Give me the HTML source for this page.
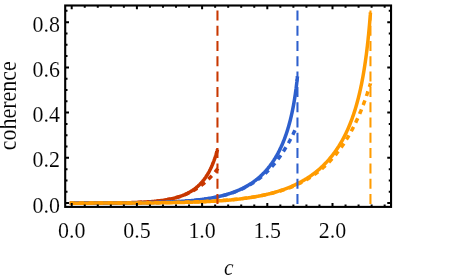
<!DOCTYPE html>
<html><head><meta charset="utf-8"><style>html,body{margin:0;padding:0;background:#fff}svg{display:block}</style></head><body><svg width="458" height="278" viewBox="0 0 458 278">
<rect width="458" height="278" fill="#fff"/>
<path d="M69.80,203.14 L70.45,203.14 L71.10,203.14 L71.75,203.14 L72.39,203.14 L73.04,203.14 L73.68,203.13 L74.32,203.13 L74.96,203.13 L75.60,203.13 L76.23,203.13 L76.87,203.13 L77.50,203.13 L78.13,203.13 L78.76,203.13 L79.39,203.13 L80.02,203.13 L80.64,203.13 L81.27,203.12 L81.89,203.12 L82.51,203.12 L83.13,203.12 L83.74,203.12 L84.36,203.12 L84.97,203.12 L85.59,203.12 L86.20,203.11 L86.81,203.11 L87.42,203.11 L88.02,203.11 L88.63,203.11 L89.23,203.11 L89.83,203.11 L90.43,203.10 L91.03,203.10 L91.63,203.10 L92.23,203.10 L92.82,203.10 L93.41,203.09 L94.00,203.09 L94.59,203.09 L95.18,203.09 L95.77,203.09 L96.35,203.08 L96.94,203.08 L97.52,203.08 L98.10,203.08 L98.68,203.07 L99.26,203.07 L99.83,203.07 L100.41,203.06 L100.98,203.06 L101.55,203.06 L102.12,203.05 L102.69,203.05 L103.26,203.05 L103.82,203.04 L104.38,203.04 L104.95,203.04 L105.51,203.03 L106.07,203.03 L106.62,203.03 L107.18,203.02 L107.73,203.02 L108.29,203.01 L108.84,203.01 L109.39,203.00 L109.94,203.00 L110.48,202.99 L111.03,202.99 L111.57,202.98 L112.11,202.98 L112.65,202.97 L113.19,202.97 L113.73,202.96 L114.27,202.95 L114.80,202.95 L115.34,202.94 L115.87,202.93 L116.40,202.93 L116.93,202.92 L117.45,202.91 L117.98,202.91 L118.50,202.90 L119.03,202.89 L119.55,202.88 L120.07,202.87 L120.58,202.87 L121.10,202.86 L121.62,202.85 L122.13,202.84 L122.64,202.83 L123.15,202.82 L123.66,202.81 L124.17,202.80 L124.67,202.79 L125.18,202.78 L125.68,202.77 L126.18,202.76 L126.68,202.75 L127.18,202.74 L127.68,202.72 L128.17,202.71 L128.67,202.70 L129.16,202.69 L129.65,202.67 L130.14,202.66 L130.63,202.65 L131.12,202.63 L131.60,202.62 L132.08,202.61 L132.57,202.59 L133.05,202.58 L133.53,202.56 L134.00,202.54 L134.48,202.53 L134.96,202.51 L135.43,202.49 L135.90,202.48 L136.37,202.46 L136.84,202.44 L137.31,202.42 L137.77,202.40 L138.24,202.39 L138.70,202.37 L139.16,202.35 L139.62,202.33 L140.08,202.31 L140.54,202.28 L140.99,202.26 L141.44,202.24 L141.90,202.22 L142.35,202.19 L142.80,202.17 L143.25,202.15 L143.69,202.12 L144.14,202.10 L144.58,202.07 L145.02,202.05 L145.46,202.02 L145.90,201.99 L146.34,201.97 L146.78,201.94 L147.21,201.91 L147.65,201.88 L148.08,201.85 L148.51,201.82 L148.94,201.79 L149.36,201.76 L149.79,201.73 L150.22,201.70 L150.64,201.66 L151.06,201.63 L151.48,201.60 L151.90,201.56 L152.32,201.53 L152.73,201.49 L153.15,201.45 L153.56,201.42 L153.97,201.38 L154.38,201.34 L154.79,201.30 L155.20,201.26 L155.60,201.22 L156.01,201.18 L156.41,201.14 L156.81,201.10 L157.21,201.05 L157.61,201.01 L158.01,200.96 L158.40,200.92 L158.80,200.87 L159.19,200.83 L159.58,200.78 L159.97,200.73 L160.36,200.68 L160.75,200.63 L161.13,200.58 L161.52,200.53 L161.90,200.48 L162.28,200.42 L162.66,200.37 L163.04,200.32 L163.42,200.26 L163.79,200.20 L164.16,200.15 L164.54,200.09 L164.91,200.03 L165.28,199.97 L165.65,199.91 L166.01,199.85 L166.38,199.79 L166.74,199.72 L167.11,199.66 L167.47,199.59 L167.83,199.53 L168.19,199.46 L168.54,199.39 L168.90,199.32 L169.25,199.25 L169.61,199.18 L169.96,199.11 L170.31,199.04 L170.66,198.97 L171.00,198.89 L171.35,198.82 L171.69,198.74 L172.04,198.66 L172.38,198.58 L172.72,198.50 L173.06,198.42 L173.39,198.34 L173.73,198.26 L174.06,198.18 L174.40,198.09 L174.73,198.00 L175.06,197.92 L175.39,197.83 L175.72,197.74 L176.04,197.65 L176.37,197.56 L176.69,197.47 L177.01,197.37 L177.33,197.28 L177.65,197.18 L177.97,197.08 L178.29,196.99 L178.60,196.89 L178.91,196.79 L179.23,196.69 L179.54,196.58 L179.85,196.48 L180.16,196.37 L180.46,196.27 L180.77,196.16 L181.07,196.05 L181.37,195.94 L181.67,195.83 L181.97,195.72 L182.27,195.60 L182.57,195.49 L182.87,195.37 L183.16,195.26 L183.45,195.14 L183.74,195.02 L184.03,194.90 L184.32,194.77 L184.61,194.65 L184.90,194.53 L185.18,194.40 L185.47,194.27 L185.75,194.14 L186.03,194.01 L186.31,193.88 L186.58,193.75 L186.86,193.62 L187.14,193.48 L187.41,193.34 L187.68,193.21 L187.95,193.07 L188.22,192.93 L188.49,192.78 L188.76,192.64 L189.03,192.50 L189.29,192.35 L189.55,192.20 L189.81,192.06 L190.07,191.91 L190.33,191.75 L190.59,191.60 L190.85,191.45 L191.10,191.29 L191.36,191.14 L191.61,190.98 L191.86,190.82 L192.11,190.66 L192.36,190.50 L192.60,190.33 L192.85,190.17 L193.09,190.00 L193.34,189.84 L193.58,189.67 L193.82,189.50 L194.06,189.32 L194.30,189.15 L194.53,188.98 L194.77,188.80 L195.00,188.63 L195.23,188.45 L195.46,188.27 L195.69,188.09 L195.92,187.90 L196.15,187.72 L196.38,187.54 L196.60,187.35 L196.82,187.16 L197.05,186.97 L197.27,186.78 L197.49,186.59 L197.70,186.40 L197.92,186.20 L198.14,186.01 L198.35,185.81 L198.56,185.61 L198.77,185.42 L198.98,185.21 L199.19,185.01 L199.40,184.81 L199.61,184.60 L199.81,184.40 L200.02,184.19 L200.22,183.98 L200.42,183.77 L200.62,183.56 L200.82,183.35 L201.01,183.14 L201.21,182.92 L201.41,182.71 L201.60,182.49 L201.79,182.28 L201.98,182.06 L202.17,181.84 L202.36,181.61 L202.55,181.39 L202.73,181.17 L202.92,180.94 L203.10,180.72 L203.28,180.49 L203.46,180.26 L203.64,180.04 L203.82,179.81 L204.00,179.58 L204.17,179.34 L204.35,179.11 L204.52,178.88 L204.69,178.64 L204.86,178.41 L205.03,178.17 L205.20,177.93 L205.37,177.70 L205.53,177.46 L205.70,177.22 L205.86,176.98 L206.02,176.74 L206.18,176.49 L206.34,176.25 L206.50,176.01 L206.66,175.76 L206.81,175.52 L206.97,175.27 L207.12,175.03 L207.27,174.78 L207.42,174.53 L207.57,174.28 L207.72,174.03 L207.87,173.79 L208.02,173.54 L208.16,173.29 L208.30,173.04 L208.45,172.78 L208.59,172.53 L208.73,172.28 L208.87,172.03 L209.00,171.78 L209.14,171.53 L209.27,171.27 L209.41,171.02 L209.54,170.77 L209.67,170.51 L209.80,170.26 L209.93,170.01 L210.06,169.75 L210.19,169.50 L210.31,169.25 L210.44,168.99 L210.56,168.74 L210.68,168.49 L210.80,168.24 L210.92,167.98 L211.04,167.73 L211.16,167.48 L211.27,167.23 L211.39,166.97 L211.50,166.72 L211.61,166.47 L211.72,166.22 L211.83,165.97 L211.94,165.72 L212.05,165.48 L212.16,165.23 L212.26,164.98 L212.37,164.73 L212.47,164.49 L212.57,164.24 L212.67,164.00 L212.77,163.76 L212.87,163.51 L212.97,163.27 L213.07,163.03 L213.16,162.79 L213.25,162.55 L213.35,162.31 L213.44,162.08 L213.53,161.84 L213.62,161.61 L213.71,161.38 L213.79,161.15 L213.88,160.92 L213.97,160.69 L214.05,160.46 L214.13,160.23 L214.21,160.01 L214.29,159.79 L214.37,159.57 L214.45,159.35 L214.53,159.13 L214.61,158.91 L214.68,158.70 L214.76,158.48 L214.83,158.27 L214.90,158.06 L214.97,157.86 L215.04,157.65 L215.11,157.45 L215.18,157.25 L215.24,157.05 L215.31,156.85 L215.37,156.66 L215.44,156.46 L215.50,156.27 L215.56,156.09 L215.62,155.90 L215.68,155.72 L215.74,155.54 L215.79,155.36 L215.85,155.18 L215.90,155.01 L215.96,154.83 L216.01,154.66 L216.06,154.50 L216.11,154.33 L216.16,154.17 L216.21,154.01 L216.26,153.86 L216.31,153.70 L216.35,153.55 L216.40,153.40 L216.44,153.26 L216.48,153.12 L216.52,152.98 L216.56,152.84 L216.60,152.71 L216.64,152.57 L216.68,152.45 L216.72,152.32 L216.75,152.20 L216.79,152.08 L216.82,151.96 L216.86,151.85 L216.89,151.74 L216.92,151.63 L216.95,151.52 L216.98,151.42 L217.01,151.32 L217.03,151.23 L217.06,151.13 L217.08,151.04 L217.11,150.96 L217.13,150.87 L217.16,150.79 L217.18,150.71 L217.20,150.64 L217.22,150.57 L217.24,150.50 L217.26,150.43 L217.27,150.37 L217.29,150.31 L217.31,150.25 L217.32,150.20 L217.34,150.15 L217.35,150.10 L217.36,150.05 L217.37,150.01 L217.38,149.97 L217.39,149.93 L217.40,149.90 L217.41,149.87 L217.42,149.84 L217.43,149.82 L217.43,149.79 L217.44,149.77 L217.44,149.75 L217.45,149.74 L217.45,149.73 L217.45,149.71 L217.46,149.71 L217.46,149.70 L217.46,149.70 L217.46,149.69 L217.46,149.69" fill="none" stroke="#C83700" stroke-width="3.5" stroke-linejoin="round"/>
<path d="M217.46,169.02 L217.46,169.02 L217.46,169.02 L217.46,169.02 L217.46,169.03 L217.45,169.03 L217.45,169.03 L217.45,169.04 L217.44,169.04 L217.44,169.05 L217.43,169.06 L217.43,169.06 L217.42,169.07 L217.41,169.08 L217.40,169.10 L217.39,169.11 L217.38,169.12 L217.37,169.13 L217.36,169.15 L217.35,169.17 L217.34,169.18 L217.32,169.20 L217.31,169.22 L217.29,169.24 L217.27,169.26 L217.26,169.28 L217.24,169.31 L217.22,169.33 L217.20,169.36 L217.18,169.39 L217.16,169.41 L217.13,169.44 L217.11,169.47 L217.08,169.51 L217.06,169.54 L217.03,169.57 L217.01,169.61 L216.98,169.64 L216.95,169.68 L216.92,169.72 L216.89,169.76 L216.86,169.80 L216.82,169.84 L216.79,169.88 L216.75,169.93 L216.72,169.97 L216.68,170.02 L216.64,170.07 L216.60,170.12 L216.56,170.17 L216.52,170.22 L216.48,170.27 L216.44,170.32 L216.40,170.38 L216.35,170.44 L216.31,170.49 L216.26,170.55 L216.21,170.61 L216.16,170.67 L216.11,170.73 L216.06,170.80 L216.01,170.86 L215.96,170.93 L215.90,170.99 L215.85,171.06 L215.79,171.13 L215.74,171.20 L215.68,171.27 L215.62,171.34 L215.56,171.42 L215.50,171.49 L215.44,171.57 L215.37,171.64 L215.31,171.72 L215.24,171.80 L215.18,171.88 L215.11,171.96 L215.04,172.05 L214.97,172.13 L214.90,172.21 L214.83,172.30 L214.76,172.39 L214.68,172.48 L214.61,172.56 L214.53,172.66 L214.45,172.75 L214.37,172.84 L214.29,172.93 L214.21,173.03 L214.13,173.12 L214.05,173.22 L213.97,173.32 L213.88,173.42 L213.79,173.52 L213.71,173.62 L213.62,173.72 L213.53,173.82 L213.44,173.93 L213.35,174.03 L213.25,174.14 L213.16,174.24 L213.07,174.35 L212.97,174.46 L212.87,174.57 L212.77,174.68 L212.67,174.79 L212.57,174.90 L212.47,175.02 L212.37,175.13 L212.26,175.25 L212.16,175.36 L212.05,175.48 L211.94,175.60 L211.83,175.72 L211.72,175.83 L211.61,175.96 L211.50,176.08 L211.39,176.20 L211.27,176.32 L211.16,176.44 L211.04,176.57 L210.92,176.69 L210.80,176.82 L210.68,176.95 L210.56,177.07 L210.44,177.20 L210.31,177.33 L210.19,177.46 L210.06,177.59 L209.93,177.72 L209.80,177.85 L209.67,177.98 L209.54,178.12 L209.41,178.25 L209.27,178.38 L209.14,178.52 L209.00,178.65 L208.87,178.79 L208.73,178.93 L208.59,179.06 L208.45,179.20 L208.30,179.34 L208.16,179.48 L208.02,179.61 L207.87,179.75 L207.72,179.89 L207.57,180.03 L207.42,180.18 L207.27,180.32 L207.12,180.46 L206.97,180.60 L206.81,180.74 L206.66,180.89 L206.50,181.03 L206.34,181.17 L206.18,181.32 L206.02,181.46 L205.86,181.60 L205.70,181.75 L205.53,181.89 L205.37,182.04 L205.20,182.19 L205.03,182.33 L204.86,182.48 L204.69,182.62 L204.52,182.77 L204.35,182.92 L204.17,183.06 L204.00,183.21 L203.82,183.36 L203.64,183.50 L203.46,183.65 L203.28,183.80 L203.10,183.95 L202.92,184.09 L202.73,184.24 L202.55,184.39 L202.36,184.54 L202.17,184.69 L201.98,184.83 L201.79,184.98 L201.60,185.13 L201.41,185.28 L201.21,185.42 L201.01,185.57 L200.82,185.72 L200.62,185.87 L200.42,186.01 L200.22,186.16 L200.02,186.31 L199.81,186.45 L199.61,186.60 L199.40,186.75 L199.19,186.89 L198.98,187.04 L198.77,187.19 L198.56,187.33 L198.35,187.48 L198.14,187.62 L197.92,187.77 L197.70,187.91 L197.49,188.06 L197.27,188.20 L197.05,188.34 L196.82,188.49 L196.60,188.63 L196.38,188.77 L196.15,188.92 L195.92,189.06 L195.69,189.20 L195.46,189.34 L195.23,189.48 L195.00,189.62 L194.77,189.76 L194.53,189.90 L194.30,190.04 L194.06,190.18 L193.82,190.31 L193.58,190.45 L193.34,190.59 L193.09,190.72 L192.85,190.86 L192.60,191.00 L192.36,191.13 L192.11,191.26 L191.86,191.40 L191.61,191.53 L191.36,191.66 L191.10,191.79 L190.85,191.93 L190.59,192.06 L190.33,192.19 L190.07,192.32 L189.81,192.44 L189.55,192.57 L189.29,192.70 L189.03,192.83 L188.76,192.95 L188.49,193.08 L188.22,193.20 L187.95,193.32 L187.68,193.45 L187.41,193.57 L187.14,193.69 L186.86,193.81 L186.58,193.93 L186.31,194.05 L186.03,194.17 L185.75,194.29 L185.47,194.40 L185.18,194.52 L184.90,194.63 L184.61,194.75 L184.32,194.86 L184.03,194.98 L183.74,195.09 L183.45,195.20 L183.16,195.31 L182.87,195.42 L182.57,195.53 L182.27,195.64 L181.97,195.74 L181.67,195.85 L181.37,195.95 L181.07,196.06 L180.77,196.16 L180.46,196.26 L180.16,196.37 L179.85,196.47 L179.54,196.57 L179.23,196.67 L178.91,196.76 L178.60,196.86 L178.29,196.96 L177.97,197.05 L177.65,197.15 L177.33,197.24 L177.01,197.34 L176.69,197.43 L176.37,197.52 L176.04,197.61 L175.72,197.70 L175.39,197.79 L175.06,197.87 L174.73,197.96 L174.40,198.05 L174.06,198.13 L173.73,198.21 L173.39,198.30 L173.06,198.38 L172.72,198.46 L172.38,198.54 L172.04,198.62 L171.69,198.70 L171.35,198.78 L171.00,198.85 L170.66,198.93 L170.31,199.00 L169.96,199.08 L169.61,199.15 L169.25,199.22 L168.90,199.29 L168.54,199.37 L168.19,199.43 L167.83,199.50 L167.47,199.57 L167.11,199.64 L166.74,199.70 L166.38,199.77 L166.01,199.83 L165.65,199.90 L165.28,199.96 L164.91,200.02 L164.54,200.08 L164.16,200.14 L163.79,200.20 L163.42,200.26 L163.04,200.32 L162.66,200.37 L162.28,200.43 L161.90,200.49 L161.52,200.54 L161.13,200.59 L160.75,200.65 L160.36,200.70 L159.97,200.75 L159.58,200.80 L159.19,200.85 L158.80,200.90 L158.40,200.95 L158.01,200.99 L157.61,201.04 L157.21,201.09 L156.81,201.13 L156.41,201.18 L156.01,201.22 L155.60,201.26 L155.20,201.30 L154.79,201.35 L154.38,201.39 L153.97,201.43 L153.56,201.47 L153.15,201.50 L152.73,201.54 L152.32,201.58 L151.90,201.62 L151.48,201.65 L151.06,201.69 L150.64,201.72 L150.22,201.76 L149.79,201.79 L149.36,201.82 L148.94,201.85 L148.51,201.89 L148.08,201.92 L147.65,201.95 L147.21,201.98 L146.78,202.01 L146.34,202.04 L145.90,202.06 L145.46,202.09 L145.02,202.12 L144.58,202.14 L144.14,202.17 L143.69,202.20 L143.25,202.22 L142.80,202.24 L142.35,202.27 L141.90,202.29 L141.44,202.31 L140.99,202.34 L140.54,202.36 L140.08,202.38 L139.62,202.40 L139.16,202.42 L138.70,202.44 L138.24,202.46 L137.77,202.48 L137.31,202.50 L136.84,202.52 L136.37,202.53 L135.90,202.55 L135.43,202.57 L134.96,202.59 L134.48,202.60 L134.00,202.62 L133.53,202.63 L133.05,202.65 L132.57,202.66 L132.08,202.68 L131.60,202.69 L131.12,202.71 L130.63,202.72 L130.14,202.73 L129.65,202.74 L129.16,202.76 L128.67,202.77 L128.17,202.78 L127.68,202.79 L127.18,202.80 L126.68,202.81 L126.18,202.82 L125.68,202.83 L125.18,202.84 L124.67,202.85 L124.17,202.86 L123.66,202.87 L123.15,202.88 L122.64,202.89 L122.13,202.90 L121.62,202.91 L121.10,202.92 L120.58,202.92 L120.07,202.93 L119.55,202.94 L119.03,202.95 L118.50,202.95 L117.98,202.96 L117.45,202.97 L116.93,202.97 L116.40,202.98 L115.87,202.98 L115.34,202.99 L114.80,203.00 L114.27,203.00 L113.73,203.01 L113.19,203.01 L112.65,203.02 L112.11,203.02 L111.57,203.03 L111.03,203.03 L110.48,203.03 L109.94,203.04 L109.39,203.04 L108.84,203.05 L108.29,203.05 L107.73,203.05 L107.18,203.06 L106.62,203.06 L106.07,203.07 L105.51,203.07 L104.95,203.07 L104.38,203.07 L103.82,203.08 L103.26,203.08 L102.69,203.08 L102.12,203.09 L101.55,203.09 L100.98,203.09 L100.41,203.09 L99.83,203.10 L99.26,203.10 L98.68,203.10 L98.10,203.10 L97.52,203.10 L96.94,203.11 L96.35,203.11 L95.77,203.11 L95.18,203.11 L94.59,203.11 L94.00,203.11 L93.41,203.12 L92.82,203.12 L92.23,203.12 L91.63,203.12 L91.03,203.12 L90.43,203.12 L89.83,203.12 L89.23,203.12 L88.63,203.13 L88.02,203.13 L87.42,203.13 L86.81,203.13 L86.20,203.13 L85.59,203.13 L84.97,203.13 L84.36,203.13 L83.74,203.13 L83.13,203.13 L82.51,203.13 L81.89,203.14 L81.27,203.14 L80.64,203.14 L80.02,203.14 L79.39,203.14 L78.76,203.14 L78.13,203.14 L77.50,203.14 L76.87,203.14 L76.23,203.14 L75.60,203.14 L74.96,203.14 L74.32,203.14 L73.68,203.14 L73.04,203.14 L72.39,203.14 L71.75,203.14 L71.10,203.14 L70.45,203.14 L69.80,203.14" fill="none" stroke="#C83700" stroke-width="3.5" stroke-linejoin="round" stroke-dasharray="4.10 4.70 4.90 4.70 4.90 4.70 4.90 4.70 4.90 4.70 4.90 4.70 4.90 4.70 4.90 4.70 4.90 4.70 4.90 4.70 4.90 4.70 4.90 4.70 4.90 4.70 4.90 4.70 4.90 4.70 4.90 4.70 4.90 4.70 4.90 4.70 4.90 4.70 4.90 4.70 4.90 4.70 4.90 4.70 4.90 4.70 4.90 4.70 4.90 4.70 4.90 4.70 4.90 4.70 4.90 4.70 4.90 4.70 4.90 4.70 4.90 4.70 4.90 4.70 4.90 4.70 4.90 4.70 4.90 4.70 4.90 4.70 4.90 4.70 4.90 4.70 4.90 4.70 4.90 4.70 4.90 4.70 4.90 4.70 4.90 4.70 4.90 4.70 4.90 4.70 4.90 4.70 4.90 4.70 4.90 4.70 4.90 4.70 4.90 4.70 4.90 4.70 4.90 4.70 4.90 4.70 4.90 4.70 4.90 4.70 4.90 4.70 4.90 4.70 4.90 4.70 4.90 4.70 4.90 4.70 4.90 4.70"/>
<path d="M69.80,203.13 L70.80,203.13 L71.80,203.13 L72.80,203.13 L73.80,203.13 L74.79,203.13 L75.78,203.12 L76.77,203.12 L77.75,203.12 L78.74,203.12 L79.72,203.12 L80.70,203.12 L81.67,203.12 L82.64,203.12 L83.62,203.11 L84.58,203.11 L85.55,203.11 L86.52,203.11 L87.48,203.11 L88.44,203.11 L89.39,203.10 L90.35,203.10 L91.30,203.10 L92.25,203.10 L93.20,203.10 L94.14,203.09 L95.08,203.09 L96.02,203.09 L96.96,203.09 L97.90,203.08 L98.83,203.08 L99.76,203.08 L100.69,203.08 L101.61,203.07 L102.54,203.07 L103.46,203.07 L104.38,203.06 L105.29,203.06 L106.21,203.06 L107.12,203.05 L108.03,203.05 L108.93,203.04 L109.84,203.04 L110.74,203.04 L111.64,203.03 L112.54,203.03 L113.43,203.02 L114.33,203.02 L115.22,203.01 L116.10,203.01 L116.99,203.00 L117.87,203.00 L118.75,202.99 L119.63,202.99 L120.51,202.98 L121.38,202.97 L122.25,202.97 L123.12,202.96 L123.99,202.95 L124.85,202.95 L125.71,202.94 L126.57,202.93 L127.43,202.93 L128.29,202.92 L129.14,202.91 L129.99,202.90 L130.84,202.89 L131.68,202.88 L132.52,202.87 L133.36,202.86 L134.20,202.86 L135.04,202.85 L135.87,202.83 L136.70,202.82 L137.53,202.81 L138.36,202.80 L139.18,202.79 L140.01,202.78 L140.83,202.77 L141.64,202.75 L142.46,202.74 L143.27,202.73 L144.08,202.71 L144.89,202.70 L145.70,202.69 L146.50,202.67 L147.30,202.66 L148.10,202.64 L148.89,202.62 L149.69,202.61 L150.48,202.59 L151.27,202.57 L152.06,202.56 L152.84,202.54 L153.62,202.52 L154.40,202.50 L155.18,202.48 L155.96,202.46 L156.73,202.44 L157.50,202.42 L158.27,202.40 L159.04,202.38 L159.80,202.35 L160.56,202.33 L161.32,202.31 L162.08,202.28 L162.83,202.26 L163.59,202.23 L164.34,202.20 L165.08,202.18 L165.83,202.15 L166.57,202.12 L167.31,202.09 L168.05,202.06 L168.79,202.03 L169.52,202.00 L170.26,201.97 L170.98,201.94 L171.71,201.90 L172.44,201.87 L173.16,201.84 L173.88,201.80 L174.60,201.76 L175.31,201.73 L176.03,201.69 L176.74,201.65 L177.45,201.61 L178.15,201.57 L178.86,201.53 L179.56,201.49 L180.26,201.44 L180.96,201.40 L181.65,201.36 L182.35,201.31 L183.04,201.26 L183.73,201.22 L184.41,201.17 L185.10,201.12 L185.78,201.07 L186.46,201.01 L187.14,200.96 L187.81,200.91 L188.48,200.85 L189.15,200.80 L189.82,200.74 L190.49,200.68 L191.15,200.62 L191.81,200.56 L192.47,200.50 L193.13,200.44 L193.78,200.38 L194.44,200.31 L195.09,200.24 L195.73,200.18 L196.38,200.11 L197.02,200.04 L197.66,199.97 L198.30,199.89 L198.94,199.82 L199.57,199.74 L200.21,199.67 L200.84,199.59 L201.46,199.51 L202.09,199.43 L202.71,199.35 L203.33,199.26 L203.95,199.18 L204.57,199.09 L205.18,199.01 L205.80,198.92 L206.41,198.83 L207.01,198.73 L207.62,198.64 L208.22,198.54 L208.82,198.45 L209.42,198.35 L210.02,198.25 L210.61,198.15 L211.21,198.04 L211.80,197.94 L212.38,197.83 L212.97,197.72 L213.55,197.61 L214.13,197.50 L214.71,197.39 L215.29,197.27 L215.87,197.15 L216.44,197.04 L217.01,196.92 L217.58,196.79 L218.14,196.67 L218.71,196.54 L219.27,196.42 L219.83,196.29 L220.38,196.15 L220.94,196.02 L221.49,195.88 L222.04,195.75 L222.59,195.61 L223.14,195.47 L223.68,195.32 L224.22,195.18 L224.76,195.03 L225.30,194.88 L225.83,194.73 L226.37,194.58 L226.90,194.42 L227.43,194.27 L227.95,194.11 L228.48,193.94 L229.00,193.78 L229.52,193.61 L230.04,193.45 L230.55,193.28 L231.07,193.10 L231.58,192.93 L232.09,192.75 L232.59,192.57 L233.10,192.39 L233.60,192.21 L234.10,192.02 L234.60,191.84 L235.10,191.65 L235.59,191.45 L236.08,191.26 L236.57,191.06 L237.06,190.86 L237.55,190.66 L238.03,190.46 L238.51,190.25 L238.99,190.04 L239.47,189.83 L239.94,189.62 L240.42,189.40 L240.89,189.18 L241.36,188.96 L241.82,188.74 L242.29,188.52 L242.75,188.29 L243.21,188.06 L243.67,187.82 L244.12,187.59 L244.58,187.35 L245.03,187.11 L245.48,186.87 L245.93,186.62 L246.37,186.37 L246.81,186.12 L247.25,185.87 L247.69,185.62 L248.13,185.36 L248.57,185.10 L249.00,184.83 L249.43,184.57 L249.86,184.30 L250.28,184.03 L250.71,183.75 L251.13,183.48 L251.55,183.20 L251.97,182.92 L252.38,182.63 L252.80,182.35 L253.21,182.06 L253.62,181.76 L254.03,181.47 L254.43,181.17 L254.84,180.87 L255.24,180.57 L255.64,180.26 L256.03,179.96 L256.43,179.64 L256.82,179.33 L257.21,179.01 L257.60,178.70 L257.99,178.37 L258.37,178.05 L258.76,177.72 L259.14,177.39 L259.52,177.06 L259.89,176.72 L260.27,176.39 L260.64,176.05 L261.01,175.70 L261.38,175.36 L261.75,175.01 L262.11,174.66 L262.47,174.30 L262.83,173.94 L263.19,173.58 L263.55,173.22 L263.90,172.86 L264.25,172.49 L264.61,172.12 L264.95,171.74 L265.30,171.37 L265.64,170.99 L265.99,170.61 L266.33,170.22 L266.66,169.84 L267.00,169.45 L267.33,169.05 L267.67,168.66 L268.00,168.26 L268.32,167.86 L268.65,167.45 L268.97,167.05 L269.30,166.64 L269.62,166.23 L269.93,165.81 L270.25,165.40 L270.56,164.98 L270.88,164.55 L271.19,164.13 L271.49,163.70 L271.80,163.27 L272.10,162.83 L272.41,162.40 L272.71,161.96 L273.01,161.52 L273.30,161.07 L273.60,160.63 L273.89,160.18 L274.18,159.73 L274.47,159.27 L274.75,158.81 L275.04,158.35 L275.32,157.89 L275.60,157.42 L275.88,156.96 L276.16,156.49 L276.43,156.01 L276.70,155.54 L276.97,155.06 L277.24,154.58 L277.51,154.09 L277.78,153.61 L278.04,153.12 L278.30,152.63 L278.56,152.13 L278.82,151.64 L279.07,151.14 L279.33,150.64 L279.58,150.13 L279.83,149.62 L280.07,149.12 L280.32,148.60 L280.56,148.09 L280.81,147.57 L281.05,147.06 L281.28,146.53 L281.52,146.01 L281.75,145.49 L281.99,144.96 L282.22,144.43 L282.45,143.89 L282.67,143.36 L282.90,142.82 L283.12,142.28 L283.34,141.74 L283.56,141.19 L283.78,140.65 L284.00,140.10 L284.21,139.55 L284.42,139.00 L284.63,138.44 L284.84,137.88 L285.05,137.32 L285.25,136.76 L285.45,136.20 L285.65,135.63 L285.85,135.07 L286.05,134.50 L286.24,133.92 L286.44,133.35 L286.63,132.78 L286.82,132.20 L287.01,131.62 L287.19,131.04 L287.38,130.46 L287.56,129.87 L287.74,129.29 L287.92,128.70 L288.10,128.11 L288.27,127.52 L288.44,126.93 L288.62,126.34 L288.79,125.74 L288.95,125.15 L289.12,124.55 L289.28,123.95 L289.45,123.35 L289.61,122.75 L289.77,122.15 L289.92,121.54 L290.08,120.94 L290.23,120.33 L290.39,119.73 L290.54,119.12 L290.68,118.51 L290.83,117.91 L290.98,117.30 L291.12,116.69 L291.26,116.08 L291.40,115.47 L291.54,114.86 L291.67,114.25 L291.81,113.64 L291.94,113.03 L292.07,112.42 L292.20,111.81 L292.33,111.20 L292.46,110.59 L292.58,109.98 L292.70,109.37 L292.82,108.76 L292.94,108.15 L293.06,107.55 L293.18,106.94 L293.29,106.34 L293.40,105.74 L293.51,105.14 L293.62,104.54 L293.73,103.94 L293.84,103.34 L293.94,102.75 L294.04,102.16 L294.14,101.57 L294.24,100.98 L294.34,100.39 L294.44,99.81 L294.53,99.23 L294.62,98.66 L294.71,98.09 L294.80,97.52 L294.89,96.95 L294.98,96.39 L295.06,95.83 L295.14,95.28 L295.23,94.73 L295.31,94.18 L295.38,93.64 L295.46,93.11 L295.54,92.58 L295.61,92.05 L295.68,91.53 L295.75,91.02 L295.82,90.51 L295.89,90.01 L295.95,89.51 L296.02,89.03 L296.08,88.54 L296.14,88.07 L296.20,87.60 L296.26,87.14 L296.32,86.69 L296.37,86.24 L296.42,85.81 L296.48,85.38 L296.53,84.96 L296.58,84.54 L296.62,84.14 L296.67,83.75 L296.72,83.36 L296.76,82.99 L296.80,82.62 L296.84,82.26 L296.88,81.92 L296.92,81.58 L296.96,81.25 L296.99,80.94 L297.02,80.63 L297.06,80.34 L297.09,80.05 L297.12,79.78 L297.15,79.52 L297.17,79.26 L297.20,79.02 L297.22,78.79 L297.25,78.58 L297.27,78.37 L297.29,78.17 L297.31,77.99 L297.33,77.82 L297.34,77.65 L297.36,77.50 L297.37,77.36 L297.39,77.23 L297.40,77.12 L297.41,77.01 L297.42,76.91 L297.43,76.83 L297.43,76.75 L297.44,76.69 L297.45,76.64 L297.45,76.59 L297.45,76.56 L297.46,76.53 L297.46,76.51 L297.46,76.50 L297.46,76.50" fill="none" stroke="#2D5FCD" stroke-width="3.5" stroke-linejoin="round"/>
<path d="M297.46,124.72 L297.46,124.72 L297.46,124.72 L297.46,124.73 L297.45,124.73 L297.45,124.74 L297.45,124.75 L297.44,124.76 L297.43,124.78 L297.43,124.80 L297.42,124.81 L297.41,124.84 L297.40,124.86 L297.39,124.89 L297.37,124.92 L297.36,124.95 L297.34,124.99 L297.33,125.03 L297.31,125.07 L297.29,125.11 L297.27,125.16 L297.25,125.21 L297.22,125.26 L297.20,125.31 L297.17,125.37 L297.15,125.43 L297.12,125.50 L297.09,125.57 L297.06,125.64 L297.02,125.71 L296.99,125.79 L296.96,125.86 L296.92,125.95 L296.88,126.03 L296.84,126.12 L296.80,126.21 L296.76,126.31 L296.72,126.40 L296.67,126.50 L296.62,126.61 L296.58,126.71 L296.53,126.82 L296.48,126.94 L296.42,127.05 L296.37,127.17 L296.32,127.30 L296.26,127.42 L296.20,127.55 L296.14,127.68 L296.08,127.82 L296.02,127.96 L295.95,128.10 L295.89,128.24 L295.82,128.39 L295.75,128.54 L295.68,128.69 L295.61,128.85 L295.54,129.01 L295.46,129.17 L295.38,129.34 L295.31,129.51 L295.23,129.68 L295.14,129.85 L295.06,130.03 L294.98,130.21 L294.89,130.40 L294.80,130.58 L294.71,130.77 L294.62,130.97 L294.53,131.16 L294.44,131.36 L294.34,131.56 L294.24,131.77 L294.14,131.97 L294.04,132.18 L293.94,132.40 L293.84,132.61 L293.73,132.83 L293.62,133.05 L293.51,133.28 L293.40,133.50 L293.29,133.73 L293.18,133.97 L293.06,134.20 L292.94,134.44 L292.82,134.68 L292.70,134.92 L292.58,135.17 L292.46,135.42 L292.33,135.67 L292.20,135.92 L292.07,136.18 L291.94,136.44 L291.81,136.70 L291.67,136.96 L291.54,137.23 L291.40,137.49 L291.26,137.76 L291.12,138.04 L290.98,138.31 L290.83,138.59 L290.68,138.87 L290.54,139.15 L290.39,139.43 L290.23,139.72 L290.08,140.01 L289.92,140.30 L289.77,140.59 L289.61,140.88 L289.45,141.18 L289.28,141.48 L289.12,141.78 L288.95,142.08 L288.79,142.38 L288.62,142.69 L288.44,142.99 L288.27,143.30 L288.10,143.61 L287.92,143.93 L287.74,144.24 L287.56,144.56 L287.38,144.87 L287.19,145.19 L287.01,145.51 L286.82,145.83 L286.63,146.16 L286.44,146.48 L286.24,146.81 L286.05,147.13 L285.85,147.46 L285.65,147.79 L285.45,148.12 L285.25,148.45 L285.05,148.79 L284.84,149.12 L284.63,149.46 L284.42,149.79 L284.21,150.13 L284.00,150.47 L283.78,150.81 L283.56,151.15 L283.34,151.49 L283.12,151.83 L282.90,152.17 L282.67,152.52 L282.45,152.86 L282.22,153.20 L281.99,153.55 L281.75,153.90 L281.52,154.24 L281.28,154.59 L281.05,154.94 L280.81,155.28 L280.56,155.63 L280.32,155.98 L280.07,156.33 L279.83,156.68 L279.58,157.03 L279.33,157.38 L279.07,157.73 L278.82,158.08 L278.56,158.43 L278.30,158.77 L278.04,159.12 L277.78,159.47 L277.51,159.82 L277.24,160.17 L276.97,160.52 L276.70,160.87 L276.43,161.22 L276.16,161.57 L275.88,161.92 L275.60,162.27 L275.32,162.62 L275.04,162.96 L274.75,163.31 L274.47,163.66 L274.18,164.00 L273.89,164.35 L273.60,164.69 L273.30,165.04 L273.01,165.38 L272.71,165.73 L272.41,166.07 L272.10,166.41 L271.80,166.75 L271.49,167.09 L271.19,167.43 L270.88,167.77 L270.56,168.11 L270.25,168.45 L269.93,168.78 L269.62,169.12 L269.30,169.45 L268.97,169.79 L268.65,170.12 L268.32,170.45 L268.00,170.78 L267.67,171.11 L267.33,171.44 L267.00,171.76 L266.66,172.09 L266.33,172.41 L265.99,172.73 L265.64,173.06 L265.30,173.38 L264.95,173.70 L264.61,174.01 L264.25,174.33 L263.90,174.64 L263.55,174.96 L263.19,175.27 L262.83,175.58 L262.47,175.89 L262.11,176.19 L261.75,176.50 L261.38,176.80 L261.01,177.11 L260.64,177.41 L260.27,177.71 L259.89,178.01 L259.52,178.30 L259.14,178.60 L258.76,178.89 L258.37,179.18 L257.99,179.47 L257.60,179.76 L257.21,180.04 L256.82,180.33 L256.43,180.61 L256.03,180.89 L255.64,181.17 L255.24,181.44 L254.84,181.72 L254.43,181.99 L254.03,182.26 L253.62,182.53 L253.21,182.80 L252.80,183.06 L252.38,183.33 L251.97,183.59 L251.55,183.85 L251.13,184.11 L250.71,184.36 L250.28,184.61 L249.86,184.87 L249.43,185.12 L249.00,185.36 L248.57,185.61 L248.13,185.85 L247.69,186.09 L247.25,186.33 L246.81,186.57 L246.37,186.81 L245.93,187.04 L245.48,187.27 L245.03,187.50 L244.58,187.73 L244.12,187.95 L243.67,188.18 L243.21,188.40 L242.75,188.62 L242.29,188.83 L241.82,189.05 L241.36,189.26 L240.89,189.47 L240.42,189.68 L239.94,189.89 L239.47,190.09 L238.99,190.29 L238.51,190.49 L238.03,190.69 L237.55,190.89 L237.06,191.08 L236.57,191.27 L236.08,191.46 L235.59,191.65 L235.10,191.84 L234.60,192.02 L234.10,192.20 L233.60,192.38 L233.10,192.56 L232.59,192.74 L232.09,192.91 L231.58,193.08 L231.07,193.25 L230.55,193.42 L230.04,193.58 L229.52,193.75 L229.00,193.91 L228.48,194.07 L227.95,194.23 L227.43,194.38 L226.90,194.54 L226.37,194.69 L225.83,194.84 L225.30,194.99 L224.76,195.13 L224.22,195.28 L223.68,195.42 L223.14,195.56 L222.59,195.70 L222.04,195.84 L221.49,195.97 L220.94,196.11 L220.38,196.24 L219.83,196.37 L219.27,196.49 L218.71,196.62 L218.14,196.74 L217.58,196.87 L217.01,196.99 L216.44,197.11 L215.87,197.22 L215.29,197.34 L214.71,197.45 L214.13,197.56 L213.55,197.67 L212.97,197.78 L212.38,197.89 L211.80,198.00 L211.21,198.10 L210.61,198.20 L210.02,198.30 L209.42,198.40 L208.82,198.50 L208.22,198.60 L207.62,198.69 L207.01,198.78 L206.41,198.87 L205.80,198.96 L205.18,199.05 L204.57,199.14 L203.95,199.23 L203.33,199.31 L202.71,199.39 L202.09,199.47 L201.46,199.55 L200.84,199.63 L200.21,199.71 L199.57,199.79 L198.94,199.86 L198.30,199.93 L197.66,200.01 L197.02,200.08 L196.38,200.15 L195.73,200.21 L195.09,200.28 L194.44,200.35 L193.78,200.41 L193.13,200.47 L192.47,200.54 L191.81,200.60 L191.15,200.66 L190.49,200.71 L189.82,200.77 L189.15,200.83 L188.48,200.88 L187.81,200.94 L187.14,200.99 L186.46,201.04 L185.78,201.09 L185.10,201.14 L184.41,201.19 L183.73,201.24 L183.04,201.29 L182.35,201.34 L181.65,201.38 L180.96,201.42 L180.26,201.47 L179.56,201.51 L178.86,201.55 L178.15,201.59 L177.45,201.63 L176.74,201.67 L176.03,201.71 L175.31,201.75 L174.60,201.78 L173.88,201.82 L173.16,201.85 L172.44,201.89 L171.71,201.92 L170.98,201.96 L170.26,201.99 L169.52,202.02 L168.79,202.05 L168.05,202.08 L167.31,202.11 L166.57,202.14 L165.83,202.16 L165.08,202.19 L164.34,202.22 L163.59,202.24 L162.83,202.27 L162.08,202.29 L161.32,202.32 L160.56,202.34 L159.80,202.36 L159.04,202.39 L158.27,202.41 L157.50,202.43 L156.73,202.45 L155.96,202.47 L155.18,202.49 L154.40,202.51 L153.62,202.53 L152.84,202.55 L152.06,202.57 L151.27,202.58 L150.48,202.60 L149.69,202.62 L148.89,202.63 L148.10,202.65 L147.30,202.66 L146.50,202.68 L145.70,202.69 L144.89,202.71 L144.08,202.72 L143.27,202.73 L142.46,202.75 L141.64,202.76 L140.83,202.77 L140.01,202.78 L139.18,202.80 L138.36,202.81 L137.53,202.82 L136.70,202.83 L135.87,202.84 L135.04,202.85 L134.20,202.86 L133.36,202.87 L132.52,202.88 L131.68,202.89 L130.84,202.89 L129.99,202.90 L129.14,202.91 L128.29,202.92 L127.43,202.93 L126.57,202.93 L125.71,202.94 L124.85,202.95 L123.99,202.96 L123.12,202.96 L122.25,202.97 L121.38,202.98 L120.51,202.98 L119.63,202.99 L118.75,202.99 L117.87,203.00 L116.99,203.00 L116.10,203.01 L115.22,203.01 L114.33,203.02 L113.43,203.02 L112.54,203.03 L111.64,203.03 L110.74,203.04 L109.84,203.04 L108.93,203.04 L108.03,203.05 L107.12,203.05 L106.21,203.06 L105.29,203.06 L104.38,203.06 L103.46,203.07 L102.54,203.07 L101.61,203.07 L100.69,203.08 L99.76,203.08 L98.83,203.08 L97.90,203.08 L96.96,203.09 L96.02,203.09 L95.08,203.09 L94.14,203.09 L93.20,203.10 L92.25,203.10 L91.30,203.10 L90.35,203.10 L89.39,203.10 L88.44,203.11 L87.48,203.11 L86.52,203.11 L85.55,203.11 L84.58,203.11 L83.62,203.11 L82.64,203.12 L81.67,203.12 L80.70,203.12 L79.72,203.12 L78.74,203.12 L77.75,203.12 L76.77,203.12 L75.78,203.12 L74.79,203.13 L73.80,203.13 L72.80,203.13 L71.80,203.13 L70.80,203.13 L69.80,203.13" fill="none" stroke="#2D5FCD" stroke-width="3.5" stroke-linejoin="round" stroke-dasharray="0.00 6.15 4.90 4.70 4.90 4.70 4.90 4.70 4.90 4.70 4.90 4.70 4.90 4.70 4.90 4.70 4.90 4.70 4.90 4.70 4.90 4.70 4.90 4.70 4.90 4.70 4.90 4.70 4.90 4.70 4.90 4.70 4.90 4.70 4.90 4.70 4.90 4.70 4.90 4.70 4.90 4.70 4.90 4.70 4.90 4.70 4.90 4.70 4.90 4.70 4.90 4.70 4.90 4.70 4.90 4.70 4.90 4.70 4.90 4.70 4.90 4.70 4.90 4.70 4.90 4.70 4.90 4.70 4.90 4.70 4.90 4.70 4.90 4.70 4.90 4.70 4.90 4.70 4.90 4.70 4.90 4.70 4.90 4.70 4.90 4.70 4.90 4.70 4.90 4.70 4.90 4.70 4.90 4.70 4.90 4.70 4.90 4.70 4.90 4.70 4.90 4.70 4.90 4.70 4.90 4.70 4.90 4.70 4.90 4.70 4.90 4.70 4.90 4.70 4.90 4.70 4.90 4.70 4.90 4.70 4.90 4.70"/>
<path d="M69.80,203.14 L71.12,203.14 L72.44,203.14 L73.76,203.14 L75.08,203.14 L76.39,203.14 L77.70,203.14 L79.00,203.13 L80.30,203.13 L81.60,203.13 L82.90,203.13 L84.19,203.13 L85.48,203.13 L86.76,203.13 L88.05,203.13 L89.33,203.13 L90.60,203.12 L91.87,203.12 L93.14,203.12 L94.41,203.12 L95.68,203.12 L96.94,203.12 L98.19,203.12 L99.45,203.11 L100.70,203.11 L101.95,203.11 L103.19,203.11 L104.43,203.11 L105.67,203.10 L106.91,203.10 L108.14,203.10 L109.37,203.10 L110.59,203.09 L111.82,203.09 L113.03,203.09 L114.25,203.09 L115.46,203.08 L116.67,203.08 L117.88,203.08 L119.09,203.07 L120.29,203.07 L121.48,203.07 L122.68,203.06 L123.87,203.06 L125.06,203.05 L126.24,203.05 L127.42,203.04 L128.60,203.04 L129.78,203.04 L130.95,203.03 L132.12,203.02 L133.29,203.02 L134.45,203.01 L135.61,203.01 L136.77,203.00 L137.92,203.00 L139.07,202.99 L140.22,202.98 L141.36,202.97 L142.50,202.97 L143.64,202.96 L144.78,202.95 L145.91,202.94 L147.04,202.93 L148.16,202.93 L149.29,202.92 L150.41,202.91 L151.52,202.90 L152.64,202.89 L153.75,202.88 L154.85,202.87 L155.96,202.86 L157.06,202.84 L158.16,202.83 L159.25,202.82 L160.34,202.81 L161.43,202.79 L162.52,202.78 L163.60,202.77 L164.68,202.75 L165.76,202.74 L166.83,202.72 L167.90,202.71 L168.97,202.69 L170.03,202.67 L171.09,202.65 L172.15,202.64 L173.20,202.62 L174.26,202.60 L175.31,202.58 L176.35,202.56 L177.39,202.54 L178.43,202.52 L179.47,202.50 L180.50,202.47 L181.53,202.45 L182.56,202.43 L183.58,202.40 L184.61,202.38 L185.62,202.35 L186.64,202.32 L187.65,202.29 L188.66,202.27 L189.67,202.24 L190.67,202.21 L191.67,202.18 L192.67,202.14 L193.66,202.11 L194.65,202.08 L195.64,202.05 L196.62,202.01 L197.60,201.97 L198.58,201.94 L199.56,201.90 L200.53,201.86 L201.50,201.82 L202.47,201.78 L203.43,201.74 L204.39,201.70 L205.35,201.65 L206.30,201.61 L207.25,201.56 L208.20,201.51 L209.15,201.47 L210.09,201.42 L211.03,201.37 L211.97,201.31 L212.90,201.26 L213.83,201.21 L214.76,201.15 L215.68,201.10 L216.60,201.04 L217.52,200.98 L218.44,200.92 L219.35,200.86 L220.26,200.79 L221.16,200.73 L222.07,200.66 L222.97,200.60 L223.86,200.53 L224.76,200.46 L225.65,200.39 L226.54,200.31 L227.42,200.24 L228.31,200.16 L229.19,200.08 L230.06,200.00 L230.94,199.92 L231.81,199.84 L232.67,199.76 L233.54,199.67 L234.40,199.58 L235.26,199.49 L236.11,199.40 L236.97,199.31 L237.82,199.22 L238.66,199.12 L239.51,199.02 L240.35,198.92 L241.19,198.82 L242.02,198.72 L242.85,198.61 L243.68,198.50 L244.51,198.39 L245.33,198.28 L246.15,198.17 L246.97,198.05 L247.78,197.94 L248.60,197.82 L249.40,197.70 L250.21,197.57 L251.01,197.45 L251.81,197.32 L252.61,197.19 L253.40,197.06 L254.19,196.92 L254.98,196.79 L255.77,196.65 L256.55,196.51 L257.33,196.37 L258.10,196.22 L258.88,196.07 L259.65,195.92 L260.42,195.77 L261.18,195.62 L261.94,195.46 L262.70,195.30 L263.46,195.14 L264.21,194.98 L264.96,194.81 L265.71,194.64 L266.45,194.47 L267.19,194.29 L267.93,194.12 L268.67,193.94 L269.40,193.76 L270.13,193.57 L270.86,193.39 L271.58,193.20 L272.30,193.01 L273.02,192.81 L273.74,192.61 L274.45,192.41 L275.16,192.21 L275.87,192.01 L276.57,191.80 L277.27,191.59 L277.97,191.37 L278.66,191.16 L279.36,190.94 L280.05,190.72 L280.73,190.49 L281.42,190.26 L282.10,190.03 L282.78,189.80 L283.45,189.56 L284.13,189.32 L284.80,189.08 L285.46,188.84 L286.13,188.59 L286.79,188.34 L287.45,188.08 L288.10,187.83 L288.75,187.57 L289.40,187.30 L290.05,187.04 L290.70,186.77 L291.34,186.50 L291.97,186.22 L292.61,185.94 L293.24,185.66 L293.87,185.38 L294.50,185.09 L295.13,184.80 L295.75,184.50 L296.37,184.21 L296.98,183.91 L297.60,183.60 L298.21,183.30 L298.81,182.99 L299.42,182.67 L300.02,182.36 L300.62,182.04 L301.22,181.71 L301.81,181.39 L302.40,181.06 L302.99,180.72 L303.57,180.39 L304.16,180.05 L304.74,179.71 L305.31,179.36 L305.89,179.01 L306.46,178.66 L307.03,178.30 L307.59,177.94 L308.16,177.58 L308.72,177.21 L309.27,176.84 L309.83,176.46 L310.38,176.09 L310.93,175.71 L311.48,175.32 L312.02,174.93 L312.56,174.54 L313.10,174.15 L313.64,173.75 L314.17,173.35 L314.70,172.94 L315.23,172.53 L315.75,172.12 L316.27,171.70 L316.79,171.28 L317.31,170.86 L317.82,170.43 L318.33,170.00 L318.84,169.56 L319.35,169.13 L319.85,168.68 L320.35,168.24 L320.85,167.79 L321.34,167.34 L321.84,166.88 L322.32,166.42 L322.81,165.95 L323.30,165.48 L323.78,165.01 L324.25,164.54 L324.73,164.06 L325.20,163.57 L325.67,163.08 L326.14,162.59 L326.61,162.10 L327.07,161.60 L327.53,161.10 L327.99,160.59 L328.44,160.08 L328.89,159.56 L329.34,159.04 L329.79,158.52 L330.23,157.99 L330.67,157.46 L331.11,156.93 L331.55,156.39 L331.98,155.85 L332.41,155.30 L332.84,154.75 L333.27,154.19 L333.69,153.63 L334.11,153.07 L334.53,152.50 L334.94,151.93 L335.35,151.35 L335.76,150.77 L336.17,150.19 L336.57,149.60 L336.97,149.01 L337.37,148.41 L337.77,147.81 L338.16,147.21 L338.56,146.60 L338.94,145.98 L339.33,145.36 L339.71,144.74 L340.09,144.11 L340.47,143.48 L340.85,142.85 L341.22,142.21 L341.59,141.56 L341.96,140.91 L342.33,140.26 L342.69,139.60 L343.05,138.94 L343.41,138.27 L343.76,137.60 L344.11,136.93 L344.46,136.25 L344.81,135.56 L345.16,134.87 L345.50,134.18 L345.84,133.48 L346.18,132.78 L346.51,132.07 L346.84,131.36 L347.17,130.64 L347.50,129.92 L347.82,129.19 L348.15,128.46 L348.47,127.72 L348.78,126.98 L349.10,126.24 L349.41,125.49 L349.72,124.74 L350.03,123.98 L350.33,123.21 L350.63,122.44 L350.93,121.67 L351.23,120.89 L351.52,120.11 L351.82,119.32 L352.11,118.53 L352.39,117.73 L352.68,116.93 L352.96,116.12 L353.24,115.31 L353.52,114.50 L353.79,113.68 L354.06,112.85 L354.33,112.02 L354.60,111.18 L354.87,110.35 L355.13,109.50 L355.39,108.65 L355.65,107.80 L355.90,106.94 L356.16,106.08 L356.41,105.21 L356.65,104.34 L356.90,103.46 L357.14,102.58 L357.38,101.69 L357.62,100.80 L357.86,99.91 L358.09,99.01 L358.32,98.10 L358.55,97.19 L358.78,96.28 L359.00,95.37 L359.23,94.44 L359.45,93.52 L359.66,92.59 L359.88,91.66 L360.09,90.72 L360.30,89.78 L360.51,88.84 L360.71,87.89 L360.92,86.94 L361.12,85.98 L361.32,85.02 L361.51,84.06 L361.71,83.09 L361.90,82.13 L362.09,81.16 L362.27,80.18 L362.46,79.20 L362.64,78.22 L362.82,77.24 L363.00,76.26 L363.17,75.27 L363.35,74.28 L363.52,73.29 L363.68,72.30 L363.85,71.30 L364.02,70.31 L364.18,69.31 L364.34,68.31 L364.49,67.32 L364.65,66.32 L364.80,65.32 L364.95,64.32 L365.10,63.32 L365.25,62.32 L365.39,61.32 L365.53,60.32 L365.67,59.33 L365.81,58.33 L365.95,57.34 L366.08,56.35 L366.21,55.36 L366.34,54.37 L366.47,53.38 L366.59,52.40 L366.71,51.43 L366.83,50.45 L366.95,49.48 L367.07,48.52 L367.18,47.56 L367.29,46.60 L367.40,45.65 L367.51,44.71 L367.61,43.77 L367.72,42.84 L367.82,41.91 L367.92,41.00 L368.02,40.09 L368.11,39.19 L368.20,38.30 L368.29,37.41 L368.38,36.54 L368.47,35.68 L368.55,34.82 L368.64,33.98 L368.72,33.15 L368.80,32.33 L368.87,31.52 L368.95,30.73 L369.02,29.95 L369.09,29.18 L369.16,28.42 L369.23,27.68 L369.29,26.95 L369.36,26.24 L369.42,25.54 L369.48,24.86 L369.54,24.20 L369.59,23.55 L369.64,22.92 L369.70,22.30 L369.75,21.70 L369.79,21.12 L369.84,20.56 L369.89,20.02 L369.93,19.49 L369.97,18.98 L370.01,18.50 L370.05,18.03 L370.08,17.58 L370.11,17.15 L370.15,16.74 L370.18,16.35 L370.21,15.98 L370.23,15.63 L370.26,15.30 L370.28,14.98 L370.30,14.69 L370.33,14.42 L370.34,14.17 L370.36,13.94 L370.38,13.73 L370.39,13.54 L370.40,13.37 L370.42,13.22 L370.43,13.08 L370.43,12.97 L370.44,12.87 L370.45,12.79 L370.45,12.73 L370.46,12.68 L370.46,12.65 L370.46,12.63 L370.46,12.63" fill="none" stroke="#FF9B00" stroke-width="3.5" stroke-linejoin="round"/>
<path d="M370.46,83.45 L370.46,83.45 L370.46,83.46 L370.46,83.46 L370.45,83.48 L370.45,83.49 L370.44,83.51 L370.43,83.54 L370.43,83.56 L370.42,83.60 L370.40,83.64 L370.39,83.68 L370.38,83.73 L370.36,83.78 L370.34,83.84 L370.33,83.90 L370.30,83.97 L370.28,84.04 L370.26,84.12 L370.23,84.21 L370.21,84.30 L370.18,84.39 L370.15,84.49 L370.11,84.60 L370.08,84.71 L370.05,84.83 L370.01,84.95 L369.97,85.08 L369.93,85.21 L369.89,85.35 L369.84,85.50 L369.79,85.65 L369.75,85.81 L369.70,85.97 L369.64,86.14 L369.59,86.32 L369.54,86.50 L369.48,86.68 L369.42,86.87 L369.36,87.07 L369.29,87.27 L369.23,87.48 L369.16,87.70 L369.09,87.92 L369.02,88.14 L368.95,88.38 L368.87,88.61 L368.80,88.86 L368.72,89.10 L368.64,89.36 L368.55,89.62 L368.47,89.88 L368.38,90.15 L368.29,90.43 L368.20,90.71 L368.11,91.00 L368.02,91.29 L367.92,91.59 L367.82,91.89 L367.72,92.20 L367.61,92.51 L367.51,92.83 L367.40,93.16 L367.29,93.49 L367.18,93.82 L367.07,94.16 L366.95,94.50 L366.83,94.85 L366.71,95.21 L366.59,95.57 L366.47,95.93 L366.34,96.30 L366.21,96.67 L366.08,97.05 L365.95,97.43 L365.81,97.82 L365.67,98.21 L365.53,98.61 L365.39,99.01 L365.25,99.41 L365.10,99.82 L364.95,100.24 L364.80,100.65 L364.65,101.08 L364.49,101.50 L364.34,101.93 L364.18,102.36 L364.02,102.80 L363.85,103.24 L363.68,103.69 L363.52,104.13 L363.35,104.59 L363.17,105.04 L363.00,105.50 L362.82,105.96 L362.64,106.43 L362.46,106.90 L362.27,107.37 L362.09,107.84 L361.90,108.32 L361.71,108.80 L361.51,109.29 L361.32,109.77 L361.12,110.26 L360.92,110.76 L360.71,111.25 L360.51,111.75 L360.30,112.25 L360.09,112.75 L359.88,113.25 L359.66,113.76 L359.45,114.27 L359.23,114.78 L359.00,115.29 L358.78,115.81 L358.55,116.33 L358.32,116.85 L358.09,117.37 L357.86,117.89 L357.62,118.41 L357.38,118.94 L357.14,119.47 L356.90,120.00 L356.65,120.53 L356.41,121.06 L356.16,121.59 L355.90,122.12 L355.65,122.66 L355.39,123.20 L355.13,123.73 L354.87,124.27 L354.60,124.81 L354.33,125.35 L354.06,125.89 L353.79,126.43 L353.52,126.97 L353.24,127.52 L352.96,128.06 L352.68,128.60 L352.39,129.14 L352.11,129.69 L351.82,130.23 L351.52,130.78 L351.23,131.32 L350.93,131.86 L350.63,132.41 L350.33,132.95 L350.03,133.50 L349.72,134.04 L349.41,134.58 L349.10,135.13 L348.78,135.67 L348.47,136.21 L348.15,136.75 L347.82,137.30 L347.50,137.84 L347.17,138.38 L346.84,138.92 L346.51,139.46 L346.18,139.99 L345.84,140.53 L345.50,141.07 L345.16,141.60 L344.81,142.14 L344.46,142.67 L344.11,143.20 L343.76,143.73 L343.41,144.26 L343.05,144.79 L342.69,145.32 L342.33,145.84 L341.96,146.37 L341.59,146.89 L341.22,147.41 L340.85,147.93 L340.47,148.45 L340.09,148.97 L339.71,149.48 L339.33,149.99 L338.94,150.51 L338.56,151.02 L338.16,151.52 L337.77,152.03 L337.37,152.53 L336.97,153.04 L336.57,153.54 L336.17,154.04 L335.76,154.53 L335.35,155.03 L334.94,155.52 L334.53,156.01 L334.11,156.50 L333.69,156.98 L333.27,157.47 L332.84,157.95 L332.41,158.43 L331.98,158.90 L331.55,159.38 L331.11,159.85 L330.67,160.32 L330.23,160.79 L329.79,161.25 L329.34,161.72 L328.89,162.18 L328.44,162.63 L327.99,163.09 L327.53,163.54 L327.07,163.99 L326.61,164.44 L326.14,164.88 L325.67,165.32 L325.20,165.76 L324.73,166.20 L324.25,166.63 L323.78,167.06 L323.30,167.49 L322.81,167.92 L322.32,168.34 L321.84,168.76 L321.34,169.17 L320.85,169.59 L320.35,170.00 L319.85,170.41 L319.35,170.81 L318.84,171.22 L318.33,171.62 L317.82,172.01 L317.31,172.41 L316.79,172.80 L316.27,173.19 L315.75,173.57 L315.23,173.95 L314.70,174.33 L314.17,174.71 L313.64,175.08 L313.10,175.45 L312.56,175.82 L312.02,176.18 L311.48,176.54 L310.93,176.90 L310.38,177.26 L309.83,177.61 L309.27,177.96 L308.72,178.31 L308.16,178.65 L307.59,178.99 L307.03,179.33 L306.46,179.66 L305.89,179.99 L305.31,180.32 L304.74,180.64 L304.16,180.97 L303.57,181.29 L302.99,181.60 L302.40,181.91 L301.81,182.22 L301.22,182.53 L300.62,182.83 L300.02,183.14 L299.42,183.43 L298.81,183.73 L298.21,184.02 L297.60,184.31 L296.98,184.60 L296.37,184.88 L295.75,185.16 L295.13,185.44 L294.50,185.71 L293.87,185.98 L293.24,186.25 L292.61,186.52 L291.97,186.78 L291.34,187.04 L290.70,187.29 L290.05,187.55 L289.40,187.80 L288.75,188.05 L288.10,188.29 L287.45,188.53 L286.79,188.77 L286.13,189.01 L285.46,189.25 L284.80,189.48 L284.13,189.71 L283.45,189.93 L282.78,190.15 L282.10,190.37 L281.42,190.59 L280.73,190.81 L280.05,191.02 L279.36,191.23 L278.66,191.44 L277.97,191.64 L277.27,191.84 L276.57,192.04 L275.87,192.24 L275.16,192.43 L274.45,192.62 L273.74,192.81 L273.02,193.00 L272.30,193.18 L271.58,193.36 L270.86,193.54 L270.13,193.72 L269.40,193.89 L268.67,194.06 L267.93,194.23 L267.19,194.40 L266.45,194.56 L265.71,194.72 L264.96,194.88 L264.21,195.04 L263.46,195.20 L262.70,195.35 L261.94,195.50 L261.18,195.65 L260.42,195.79 L259.65,195.94 L258.88,196.08 L258.10,196.22 L257.33,196.36 L256.55,196.49 L255.77,196.62 L254.98,196.76 L254.19,196.88 L253.40,197.01 L252.61,197.14 L251.81,197.26 L251.01,197.38 L250.21,197.50 L249.40,197.62 L248.60,197.73 L247.78,197.85 L246.97,197.96 L246.15,198.07 L245.33,198.17 L244.51,198.28 L243.68,198.38 L242.85,198.49 L242.02,198.59 L241.19,198.69 L240.35,198.78 L239.51,198.88 L238.66,198.97 L237.82,199.07 L236.97,199.16 L236.11,199.24 L235.26,199.33 L234.40,199.42 L233.54,199.50 L232.67,199.58 L231.81,199.67 L230.94,199.75 L230.06,199.82 L229.19,199.90 L228.31,199.98 L227.42,200.05 L226.54,200.12 L225.65,200.19 L224.76,200.26 L223.86,200.33 L222.97,200.40 L222.07,200.46 L221.16,200.53 L220.26,200.59 L219.35,200.65 L218.44,200.71 L217.52,200.77 L216.60,200.83 L215.68,200.89 L214.76,200.94 L213.83,201.00 L212.90,201.05 L211.97,201.11 L211.03,201.16 L210.09,201.21 L209.15,201.26 L208.20,201.30 L207.25,201.35 L206.30,201.40 L205.35,201.44 L204.39,201.49 L203.43,201.53 L202.47,201.57 L201.50,201.61 L200.53,201.65 L199.56,201.69 L198.58,201.73 L197.60,201.77 L196.62,201.81 L195.64,201.84 L194.65,201.88 L193.66,201.91 L192.67,201.95 L191.67,201.98 L190.67,202.01 L189.67,202.04 L188.66,202.07 L187.65,202.10 L186.64,202.13 L185.62,202.16 L184.61,202.19 L183.58,202.22 L182.56,202.24 L181.53,202.27 L180.50,202.29 L179.47,202.32 L178.43,202.34 L177.39,202.37 L176.35,202.39 L175.31,202.41 L174.26,202.43 L173.20,202.45 L172.15,202.48 L171.09,202.50 L170.03,202.52 L168.97,202.53 L167.90,202.55 L166.83,202.57 L165.76,202.59 L164.68,202.61 L163.60,202.62 L162.52,202.64 L161.43,202.65 L160.34,202.67 L159.25,202.68 L158.16,202.70 L157.06,202.71 L155.96,202.73 L154.85,202.74 L153.75,202.75 L152.64,202.77 L151.52,202.78 L150.41,202.79 L149.29,202.80 L148.16,202.81 L147.04,202.82 L145.91,202.83 L144.78,202.85 L143.64,202.86 L142.50,202.87 L141.36,202.87 L140.22,202.88 L139.07,202.89 L137.92,202.90 L136.77,202.91 L135.61,202.92 L134.45,202.93 L133.29,202.93 L132.12,202.94 L130.95,202.95 L129.78,202.96 L128.60,202.96 L127.42,202.97 L126.24,202.97 L125.06,202.98 L123.87,202.99 L122.68,202.99 L121.48,203.00 L120.29,203.00 L119.09,203.01 L117.88,203.01 L116.67,203.02 L115.46,203.02 L114.25,203.03 L113.03,203.03 L111.82,203.04 L110.59,203.04 L109.37,203.05 L108.14,203.05 L106.91,203.05 L105.67,203.06 L104.43,203.06 L103.19,203.06 L101.95,203.07 L100.70,203.07 L99.45,203.07 L98.19,203.08 L96.94,203.08 L95.68,203.08 L94.41,203.08 L93.14,203.09 L91.87,203.09 L90.60,203.09 L89.33,203.09 L88.05,203.10 L86.76,203.10 L85.48,203.10 L84.19,203.10 L82.90,203.10 L81.60,203.11 L80.30,203.11 L79.00,203.11 L77.70,203.11 L76.39,203.11 L75.08,203.11 L73.76,203.12 L72.44,203.12 L71.12,203.12 L69.80,203.12" fill="none" stroke="#FF9B00" stroke-width="3.5" stroke-linejoin="round" stroke-dasharray="3.60 4.70 4.90 4.70 4.90 4.70 4.90 4.70 4.90 4.70 4.90 4.70 4.90 4.70 4.90 4.70 4.90 4.70 4.90 4.70 4.90 4.70 4.90 4.70 4.90 4.70 4.90 4.70 4.90 4.70 4.90 4.70 4.90 4.70 4.90 4.70 4.90 4.70 4.90 4.70 4.90 4.70 4.90 4.70 4.90 4.70 4.90 4.70 4.90 4.70 4.90 4.70 4.90 4.70 4.90 4.70 4.90 4.70 4.90 4.70 4.90 4.70 4.90 4.70 4.90 4.70 4.90 4.70 4.90 4.70 4.90 4.70 4.90 4.70 4.90 4.70 4.90 4.70 4.90 4.70 4.90 4.70 4.90 4.70 4.90 4.70 4.90 4.70 4.90 4.70 4.90 4.70 4.90 4.70 4.90 4.70 4.90 4.70 4.90 4.70 4.90 4.70 4.90 4.70 4.90 4.70 4.90 4.70 4.90 4.70 4.90 4.70 4.90 4.70 4.90 4.70 4.90 4.70 4.90 4.70 4.90 4.70"/>
<path d="M217.46,204 L217.46,5.5" stroke="#C83700" stroke-width="2.05" stroke-dasharray="10 5.3" fill="none"/>
<path d="M297.46,204 L297.46,5.5" stroke="#2D5FCD" stroke-width="2.05" stroke-dasharray="10 5.3" fill="none"/>
<path d="M370.46,204 L370.46,5.5" stroke="#FF9B00" stroke-width="2.05" stroke-dasharray="10 5.3" fill="none"/>
<path d="M71.70,206.9 v-3.8 M71.70,5.5 v3.8 M84.74,206.9 v-2.3 M84.74,5.5 v2.3 M97.78,206.9 v-2.3 M97.78,5.5 v2.3 M110.82,206.9 v-2.3 M110.82,5.5 v2.3 M123.86,206.9 v-2.3 M123.86,5.5 v2.3 M136.90,206.9 v-3.8 M136.90,5.5 v3.8 M149.94,206.9 v-2.3 M149.94,5.5 v2.3 M162.98,206.9 v-2.3 M162.98,5.5 v2.3 M176.02,206.9 v-2.3 M176.02,5.5 v2.3 M189.06,206.9 v-2.3 M189.06,5.5 v2.3 M202.10,206.9 v-3.8 M202.10,5.5 v3.8 M215.14,206.9 v-2.3 M215.14,5.5 v2.3 M228.18,206.9 v-2.3 M228.18,5.5 v2.3 M241.22,206.9 v-2.3 M241.22,5.5 v2.3 M254.26,206.9 v-2.3 M254.26,5.5 v2.3 M267.30,206.9 v-3.8 M267.30,5.5 v3.8 M280.34,206.9 v-2.3 M280.34,5.5 v2.3 M293.38,206.9 v-2.3 M293.38,5.5 v2.3 M306.42,206.9 v-2.3 M306.42,5.5 v2.3 M319.46,206.9 v-2.3 M319.46,5.5 v2.3 M332.50,206.9 v-3.8 M332.50,5.5 v3.8 M345.54,206.9 v-2.3 M345.54,5.5 v2.3 M358.58,206.9 v-2.3 M358.58,5.5 v2.3 M371.62,206.9 v-2.3 M371.62,5.5 v2.3 M384.66,206.9 v-2.3 M384.66,5.5 v2.3 M65.2,203.10 h3.8 M391.05,203.10 h-3.8 M65.2,191.79 h2.3 M391.05,191.79 h-2.3 M65.2,180.48 h2.3 M391.05,180.48 h-2.3 M65.2,169.17 h2.3 M391.05,169.17 h-2.3 M65.2,157.86 h3.8 M391.05,157.86 h-3.8 M65.2,146.55 h2.3 M391.05,146.55 h-2.3 M65.2,135.24 h2.3 M391.05,135.24 h-2.3 M65.2,123.93 h2.3 M391.05,123.93 h-2.3 M65.2,112.62 h3.8 M391.05,112.62 h-3.8 M65.2,101.31 h2.3 M391.05,101.31 h-2.3 M65.2,90.00 h2.3 M391.05,90.00 h-2.3 M65.2,78.69 h2.3 M391.05,78.69 h-2.3 M65.2,67.38 h3.8 M391.05,67.38 h-3.8 M65.2,56.07 h2.3 M391.05,56.07 h-2.3 M65.2,44.76 h2.3 M391.05,44.76 h-2.3 M65.2,33.45 h2.3 M391.05,33.45 h-2.3 M65.2,22.14 h3.8 M391.05,22.14 h-3.8 M65.2,10.83 h2.3 M391.05,10.83 h-2.3" stroke="#000" stroke-width="2.0" fill="none"/>
<rect x="65.2" y="5.5" width="325.85" height="201.4" fill="none" stroke="#000" stroke-width="2.1"/>
<g font-family="Liberation Serif, serif" font-size="21.5" fill="#000" stroke="#fff" stroke-width="0.1" opacity="0.999">
<text transform="translate(59.9,212.70) scale(1.02,1.1)" text-anchor="end">0.0</text>
<text transform="translate(59.9,167.46) scale(1.02,1.1)" text-anchor="end">0.2</text>
<text transform="translate(59.9,122.22) scale(1.02,1.1)" text-anchor="end">0.4</text>
<text transform="translate(59.9,76.98) scale(1.02,1.1)" text-anchor="end">0.6</text>
<text transform="translate(59.9,31.74) scale(1.02,1.1)" text-anchor="end">0.8</text>
<text transform="translate(71.70,238.0) scale(1.02,1.1)" text-anchor="middle">0.0</text>
<text transform="translate(136.90,238.0) scale(1.02,1.1)" text-anchor="middle">0.5</text>
<text transform="translate(202.10,238.0) scale(1.02,1.1)" text-anchor="middle">1.0</text>
<text transform="translate(267.30,238.0) scale(1.02,1.1)" text-anchor="middle">1.5</text>
<text transform="translate(332.50,238.0) scale(1.02,1.1)" text-anchor="middle">2.0</text>
<text transform="translate(15.5,105.7) rotate(-90) scale(1,1.1)" text-anchor="middle" font-size="22">coherence</text>
<text transform="translate(228.7,274.6) scale(1,1.1)" text-anchor="middle" font-style="italic" font-size="21.5">c</text>
</g>
</svg></body></html>
